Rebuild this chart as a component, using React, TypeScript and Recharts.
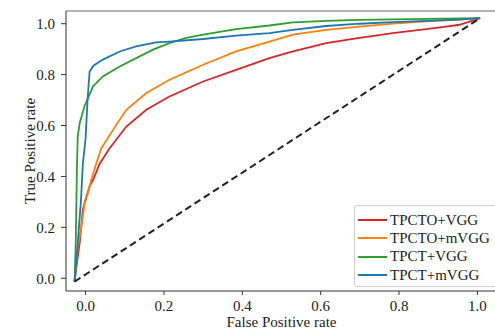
import React from 'react'
import { LineChart, Line, XAxis, YAxis, ReferenceLine } from 'recharts'

// ROC points, [false positive rate, true positive rate]
const tpctoVgg: [number, number][] = [
  [-0.028, -0.013], [-0.022, 0.06], [-0.015, 0.14], [-0.007, 0.27], [0.0, 0.31],
  [0.01, 0.36], [0.02, 0.39], [0.036, 0.45], [0.061, 0.51], [0.104, 0.596],
  [0.155, 0.662], [0.214, 0.714], [0.3, 0.773], [0.384, 0.819], [0.469, 0.865],
  [0.529, 0.891], [0.614, 0.924], [0.699, 0.944], [0.784, 0.963], [0.869, 0.979],
  [0.92, 0.989], [0.954, 0.996], [0.988, 1.012], [1.007, 1.022],
]
const tpctoMvgg: [number, number][] = [
  [-0.028, -0.013], [-0.02, 0.12], [-0.011, 0.2], [-0.003, 0.29], [0.006, 0.335],
  [0.015, 0.39], [0.027, 0.45], [0.04, 0.51], [0.07, 0.583], [0.104, 0.662],
  [0.155, 0.728], [0.214, 0.78], [0.3, 0.839], [0.384, 0.891], [0.469, 0.93],
  [0.529, 0.957], [0.614, 0.976], [0.699, 0.989], [0.784, 1.0], [0.869, 1.009],
  [0.954, 1.016], [1.007, 1.022],
]
const tpctVgg: [number, number][] = [
  [-0.028, -0.013], [-0.025, 0.15], [-0.022, 0.44], [-0.02, 0.557], [-0.015, 0.61],
  [-0.003, 0.675], [0.019, 0.754], [0.044, 0.793], [0.087, 0.832], [0.129, 0.865],
  [0.172, 0.898], [0.214, 0.924], [0.257, 0.944], [0.3, 0.957], [0.384, 0.979],
  [0.469, 0.993], [0.529, 1.005], [0.614, 1.011], [0.699, 1.015], [0.784, 1.017],
  [0.869, 1.019], [1.007, 1.022],
]
const tpctMvgg: [number, number][] = [
  [-0.028, -0.013], [-0.02, 0.14], [-0.012, 0.3], [-0.007, 0.45], [0.0, 0.55],
  [0.005, 0.7], [0.0102, 0.812], [0.02, 0.835], [0.044, 0.859], [0.087, 0.891],
  [0.129, 0.911], [0.18, 0.927], [0.214, 0.93], [0.3, 0.94], [0.384, 0.953],
  [0.469, 0.963], [0.529, 0.976], [0.614, 0.991], [0.699, 1.0], [0.784, 1.006],
  [0.869, 1.011], [0.954, 1.016], [1.007, 1.022],
]
const chance: [number, number][] = [[-0.028, -0.013], [1.007, 1.022]]

const ticks = [0, 0.2, 0.4, 0.6, 0.8, 1.0]

const series = [
  { name: 'TPCTO+VGG', color: '#d62728', points: tpctoVgg },
  { name: 'TPCTO+mVGG', color: '#ff7f0e', points: tpctoMvgg },
  { name: 'TPCT+VGG', color: '#2ca02c', points: tpctVgg },
  { name: 'TPCT+mVGG', color: '#1f77b4', points: tpctMvgg },
]

const toRows = (pts: [number, number][]) => pts.map(([x, y]) => ({ x, y }))

const font = "'Liberation Serif', 'DejaVu Serif', serif"
const tickStyle = { fontFamily: font, fontSize: 15, fill: '#222' }

function LegendBox() {
  return (
    <div
      style={{
        position: 'absolute',
        left: 354,
        top: 205,
        width: 160,
        height: 82,
        boxSizing: 'border-box',
        border: '1px solid #cfcfcf',
        borderRadius: 3,
        background: '#fff',
        padding: '5px 0 0 3px',
        fontFamily: font,
        fontSize: 15,
        color: '#222',
      }}
    >
      {series.map(s => (
        <div key={s.name} style={{ display: 'flex', alignItems: 'center', height: 18.3 }}>
          <span style={{ width: 29, height: 2, background: s.color, marginRight: 3 }} />
          <span>{s.name}</span>
        </div>
      ))}
    </div>
  )
}

export default function App() {
  return (
    <div style={{ position: 'fixed', left: 0, top: 0, width: 495, height: 331, overflow: 'hidden', background: '#fff', fontFamily: font }}>
      <LineChart width={505} height={331} margin={{ top: 11, right: 8, bottom: 0, left: 0 }}>
        <XAxis
          type="number"
          dataKey="x"
          domain={[-0.05, 1.05]}
          ticks={ticks}
          tickFormatter={(v: number) => v.toFixed(1)}
          height={40}
          tickSize={4}
          tickMargin={5}
          tick={tickStyle}
          stroke="#333"
          allowDataOverflow
          label={{ value: 'False Positive rate', position: 'center', dy: 11, style: { fontFamily: font, fontSize: 15, fill: '#222' } }}
        />
        <YAxis
          type="number"
          dataKey="y"
          domain={[-0.05, 1.05]}
          ticks={ticks}
          tickFormatter={(v: number) => v.toFixed(1)}
          width={66}
          tickSize={5}
          tickMargin={6}
          tick={tickStyle}
          stroke="#333"
          allowDataOverflow
          label={{ value: 'True Positive rate', angle: -90, position: 'center', dx: -3, style: { fontFamily: font, fontSize: 15, fill: '#222', textAnchor: 'middle' } }}
        />
        <ReferenceLine y={1.05} stroke="#999" strokeWidth={1.5} ifOverflow="visible" />
        {series.map(s => (
          <Line
            key={s.name}
            data={toRows(s.points)}
            dataKey="y"
            name={s.name}
            type="linear"
            stroke={s.color}
            strokeWidth={1.8}
            dot={false}
            isAnimationActive={false}
          />
        ))}
        <Line
          data={toRows(chance)}
          dataKey="y"
          name="chance"
          type="linear"
          stroke="#222"
          strokeWidth={2}
          strokeDasharray="7 4"
          dot={false}
          isAnimationActive={false}
        />
      </LineChart>
      <LegendBox />
    </div>
  )
}
